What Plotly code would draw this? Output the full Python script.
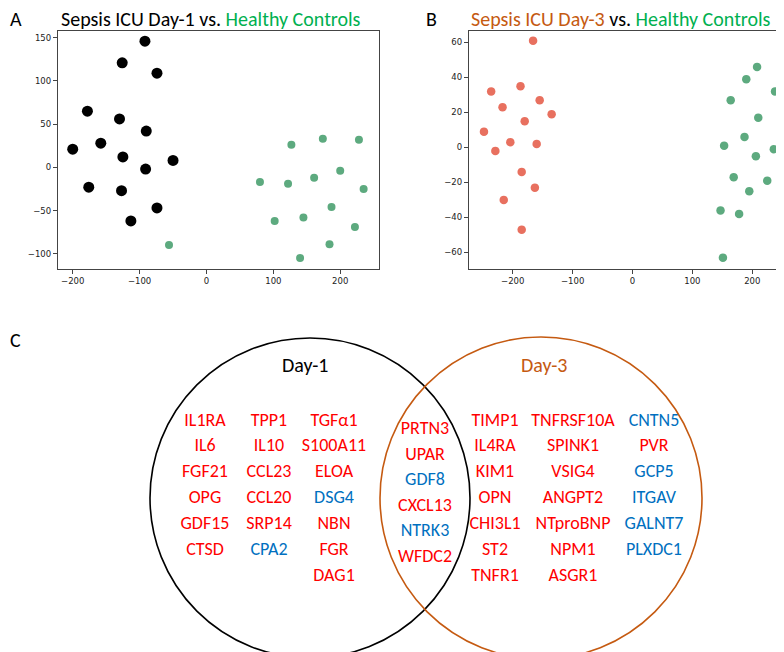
import plotly.graph_objects as go

# ---------------- data ----------------
# Panel A: Day-1 sepsis (black) vs healthy controls (green)
a_sepsis_x = [-92, -126, -74, -178, -130, -90, -200, -158, -125, -50, -91, -176, -127, -74, -113]
a_sepsis_y = [146, 121, 109, 65, 56, 42, 21, 28, 12, 8, -2, -23, -27, -47, -62]
a_ctrl_x = [-56, 80, 127, 174, 228, 200, 122, 161, 235, 187, 102, 145, 222, 184, 140]
a_ctrl_y = [-90, -17, 26, 33, 32, -4, -19, -12, -25, -46, -62, -58, -69, -89, -105]

# Panel B: Day-3 sepsis (salmon) vs healthy controls (green)
b_sepsis_x = [-166, -236, -187, -217, -155, -135, -180, -248, -204, -160, -229, -185, -163, -215, -185]
b_sepsis_y = [61, 32, 35, 23, 27, 19, 15, 9, 3, 2, -2, -14, -23, -30, -47]
b_ctrl_x = [208, 190, 238, 164, 210, 187, 153, 236, 206, 169, 225, 195, 147, 178, 151]
b_ctrl_y = [46, 39, 32, 27, 17, 6, 1, -1, -5, -17, -19, -25, -36, -38, -63]

a_xticks = [-200, -100, 0, 100, 200]
a_yticks = [-100, -50, 0, 50, 100, 150]
b_xticks = [-200, -100, 0, 100, 200]
b_yticks = [-60, -40, -20, 0, 20, 40, 60]

# Panel C: Venn gene lists (columns)
day1_cols = [
    ["IL1RA", "IL6", "FGF21", "OPG", "GDF15", "CTSD"],
    ["TPP1", "IL10", "CCL23", "CCL20", "SRP14", "CPA2"],
    ["TGFα1", "S100A11", "ELOA", "DSG4", "NBN", "FGR", "DAG1"],
]
overlap_genes = ["PRTN3", "UPAR", "GDF8", "CXCL13", "NTRK3", "WFDC2"]
day3_cols = [
    ["TIMP1", "IL4RA", "KIM1", "OPN", "CHI3L1", "ST2", "TNFR1"],
    ["TNFRSF10A", "SPINK1", "VSIG4", "ANGPT2", "NTproBNP", "NPM1", "ASGR1"],
    ["CNTN5", "PVR", "GCP5", "ITGAV", "GALNT7", "PLXDC1"],
]
down_genes = ["CPA2", "DSG4", "GDF8", "NTRK3", "CNTN5", "GCP5", "ITGAV", "GALNT7", "PLXDC1"]

# ---------------- style ----------------
W, H = 784, 652
GREEN_TXT = "#00B050"
ORANGE = "#C55A11"
RED_TXT = "#FF0000"
BLUE_TXT = "#0070C0"
DOT_GREEN = "#5DAA7F"
DOT_RED = "#E8705F"
TXT_FONT = "Carlito, Lato, 'Open Sans', sans-serif"
TICK_FONT = dict(family="DejaVu Sans", size=8.5, color="#222")

fig = go.Figure()

fig.add_trace(go.Scatter(x=a_sepsis_x, y=a_sepsis_y, mode="markers",
                         marker=dict(color="black", size=11), xaxis="x", yaxis="y"))
fig.add_trace(go.Scatter(x=a_ctrl_x, y=a_ctrl_y, mode="markers",
                         marker=dict(color=DOT_GREEN, size=8), xaxis="x", yaxis="y"))
fig.add_trace(go.Scatter(x=b_sepsis_x, y=b_sepsis_y, mode="markers",
                         marker=dict(color=DOT_RED, size=8.5), xaxis="x2", yaxis="y2"))
fig.add_trace(go.Scatter(x=b_ctrl_x, y=b_ctrl_y, mode="markers",
                         marker=dict(color=DOT_GREEN, size=8.5), xaxis="x2", yaxis="y2"))

# Venn text traces (layout grid in pixel units of panel C axes)
def col_trace(cols, xs, y0, dy):
    gx, gy, gt, gc = [], [], [], []
    for j, col in enumerate(cols):
        for i, g in enumerate(col):
            gx.append(xs[j]); gy.append(y0 + i * dy); gt.append(g)
            gc.append(BLUE_TXT if g in down_genes else RED_TXT)
    return go.Scatter(x=gx, y=gy, text=gt, mode="text", textposition="middle center",
                      textfont=dict(family=TXT_FONT, size=18, color=gc),
                      xaxis="x3", yaxis="y3", hoverinfo="skip")

fig.add_trace(col_trace(day1_cols, [197, 261, 326], 413, 25.9))
fig.add_trace(col_trace([overlap_genes], [417], 421.5, 25.5))
fig.add_trace(col_trace(day3_cols, [487, 565, 646], 413, 25.9))

axis_common = dict(showline=True, mirror=True, linecolor="#444", linewidth=1.2,
                   ticks="outside", ticklen=4, tickwidth=1, tickcolor="#444",
                   showgrid=False, zeroline=False, tickfont=TICK_FONT)

fig.update_layout(
    width=W, height=H, autosize=False,
    margin=dict(l=0, r=0, t=0, b=0),
    paper_bgcolor="white", plot_bgcolor="white",
    showlegend=False,
    xaxis=dict(domain=[50 / W, 371 / W], range=[-222, 258], tickvals=a_xticks,
               anchor="y", **axis_common),
    yaxis=dict(domain=[1 - 261 / H, 1 - 23 / H], range=[-117.7, 157.8], tickvals=a_yticks,
               anchor="x", **axis_common),
    xaxis2=dict(domain=[461 / W, 782 / W], range=[-273, 263], tickvals=b_xticks,
                anchor="y2", **axis_common),
    yaxis2=dict(domain=[1 - 261 / H, 1 - 23 / H], range=[-69.5, 66.5], tickvals=b_yticks,
                anchor="x2", **axis_common),
    xaxis3=dict(domain=[0, 1], range=[0, W], visible=False, anchor="y3"),
    yaxis3=dict(domain=[0, 1 - 300 / H], range=[H, 300], visible=False, anchor="x3"),
)

# Venn circles
fig.add_shape(type="circle", xref="x3", yref="y3", x0=302 - 160, x1=302 + 160,
              y0=490 - 160, y1=490 + 160, line=dict(color="black", width=1.6))
fig.add_shape(type="circle", xref="x3", yref="y3", x0=533 - 161, x1=533 + 161,
              y0=490 - 161, y1=490 + 161, line=dict(color=ORANGE, width=1.6))

ann = []
ann.append(dict(x=52 / W, y=1, xref="paper", yref="paper",
                text=f"Sepsis ICU Day-1 vs. <span style='color:{GREEN_TXT}'>Healthy Controls</span>",
                showarrow=False, xanchor="left", yanchor="top", borderpad=0, yshift=2,
                font=dict(family=TXT_FONT, size=20, color="black")))
ann.append(dict(x=462 / W, y=1, xref="paper", yref="paper",
                text=f"<span style='color:{ORANGE}'>Sepsis ICU Day-3</span> vs. "
                     f"<span style='color:{GREEN_TXT}'>Healthy Controls</span>",
                showarrow=False, xanchor="left", yanchor="top", borderpad=0, yshift=2,
                font=dict(family=TXT_FONT, size=20, color="black")))
for lab, px in [("A", 8), ("B", 423)]:
    ann.append(dict(x=px / W, y=1, xref="paper", yref="paper", text=lab,
                    showarrow=False, xanchor="center", yanchor="top", borderpad=0, yshift=2,
                    font=dict(family=TXT_FONT, size=20, color="black")))
ann.append(dict(x=7 / W, y=1 - 332 / H, xref="paper", yref="paper", text="C",
                showarrow=False, xanchor="center", yanchor="middle",
                font=dict(family=TXT_FONT, size=20, color="black")))
ann.append(dict(x=297, y=357, xref="x3", yref="y3", text="Day-1", showarrow=False,
                xanchor="center", yanchor="middle",
                font=dict(family=TXT_FONT, size=20, color="black")))
ann.append(dict(x=536, y=357, xref="x3", yref="y3", text="Day-3", showarrow=False,
                xanchor="center", yanchor="middle",
                font=dict(family=TXT_FONT, size=20, color=ORANGE)))
fig.update_layout(annotations=ann)

fig.write_html("out.html")
